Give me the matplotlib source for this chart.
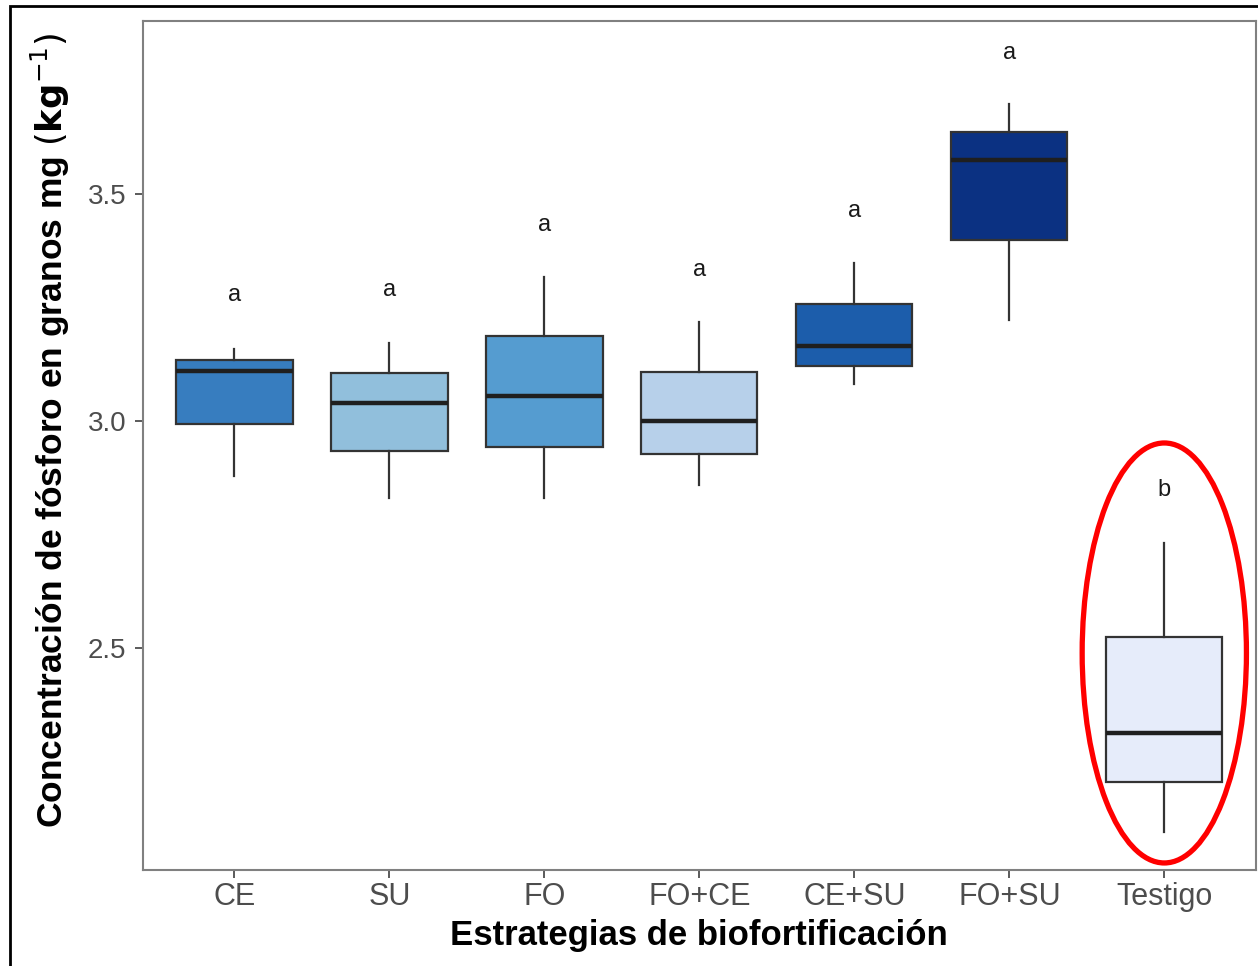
import matplotlib
matplotlib.use("Agg")
import matplotlib.pyplot as plt
from matplotlib.patches import Ellipse, Rectangle

plt.rcParams['font.family'] = ['Liberation Sans', 'DejaVu Sans']

# data
estrategias = ['CE', 'SU', 'FO', 'FO+CE', 'CE+SU', 'FO+SU', 'Testigo']
whis_lo = [2.879, 2.830, 2.830, 2.859, 3.082, 3.223, 2.093]
q1 = [2.993, 2.934, 2.943, 2.927, 3.121, 3.400, 2.203]
mediana = [3.110, 3.040, 3.055, 3.000, 3.166, 3.576, 2.311]
q3 = [3.135, 3.106, 3.188, 3.108, 3.258, 3.638, 2.523]
whis_hi = [3.159, 3.172, 3.318, 3.219, 3.349, 3.700, 2.731]
letras = ['a', 'a', 'a', 'a', 'a', 'a', 'b']
letra_y = [3.278, 3.289, 3.433, 3.333, 3.464, 3.812, 2.848]
colores = ['#377dbf', '#91bfdc', '#559cd0', '#b7d0ea', '#1c5dab', '#0b3182', '#e6ecfa']

fig = plt.figure(figsize=(12.58, 9.66), dpi=100)
ax = fig.add_axes([0.1137, 0.0994, 0.8845, 0.8789])

stats = []
for i in range(len(estrategias)):
    stats.append({'med': mediana[i], 'q1': q1[i], 'q3': q3[i],
                  'whislo': whis_lo[i], 'whishi': whis_hi[i], 'fliers': []})

bp = ax.bxp(stats, positions=range(len(estrategias)), widths=0.75,
            patch_artist=True, showcaps=False,
            boxprops=dict(edgecolor='#333333', linewidth=1.6),
            whiskerprops=dict(color='#333333', linewidth=1.6),
            medianprops=dict(color='#1f1f1f', linewidth=3.2))
for patch, c in zip(bp['boxes'], colores):
    patch.set_facecolor(c)

for i, (l, y) in enumerate(zip(letras, letra_y)):
    ax.text(i, y, l, ha='center', va='center', fontsize=17, color='#1a1a1a')

# red ellipse around the control
ti = estrategias.index('Testigo')
ax.add_patch(Ellipse((ti, 2.488), 1.06, 0.927, fill=False, edgecolor='red',
                     linewidth=3.8, clip_on=False, zorder=5))

ax.set_xlim(-0.59, 6.59)
ax.set_ylim(2.009, 3.883)
ax.set_yticks([2.5, 3.0, 3.5])
ax.set_yticklabels(['2.5', '3.0', '3.5'])
ax.set_xticks(range(len(estrategias)))
ax.set_xticklabels(estrategias)
ax.tick_params(axis='x', labelsize=22, colors='#4d4d4d', length=6, width=1.3, pad=3)
ax.tick_params(axis='y', labelsize=20, colors='#4d4d4d', length=6, width=1.3, pad=6)

for s in ax.spines.values():
    s.set_color('#808080')
    s.set_linewidth(1.5)

ax.set_xlabel('Estrategias de biofortificación', fontsize=25, fontweight='bold')
ax.xaxis.set_label_coords(0.4995, -0.058)
ax.set_ylabel(r'Concentración de fósforo en granos mg $(\mathbf{kg}^{-1})$',
              fontsize=25.5, fontweight='bold')
ax.yaxis.set_label_coords(-0.064, 0.518)

# outer black frame
fig.add_artist(Rectangle((10 / 1258, -0.05), 1.2, 1 - 6 / 966 + 0.05,
                         transform=fig.transFigure, fill=False,
                         edgecolor='black', linewidth=2))

plt.savefig('out.png', dpi=100)
